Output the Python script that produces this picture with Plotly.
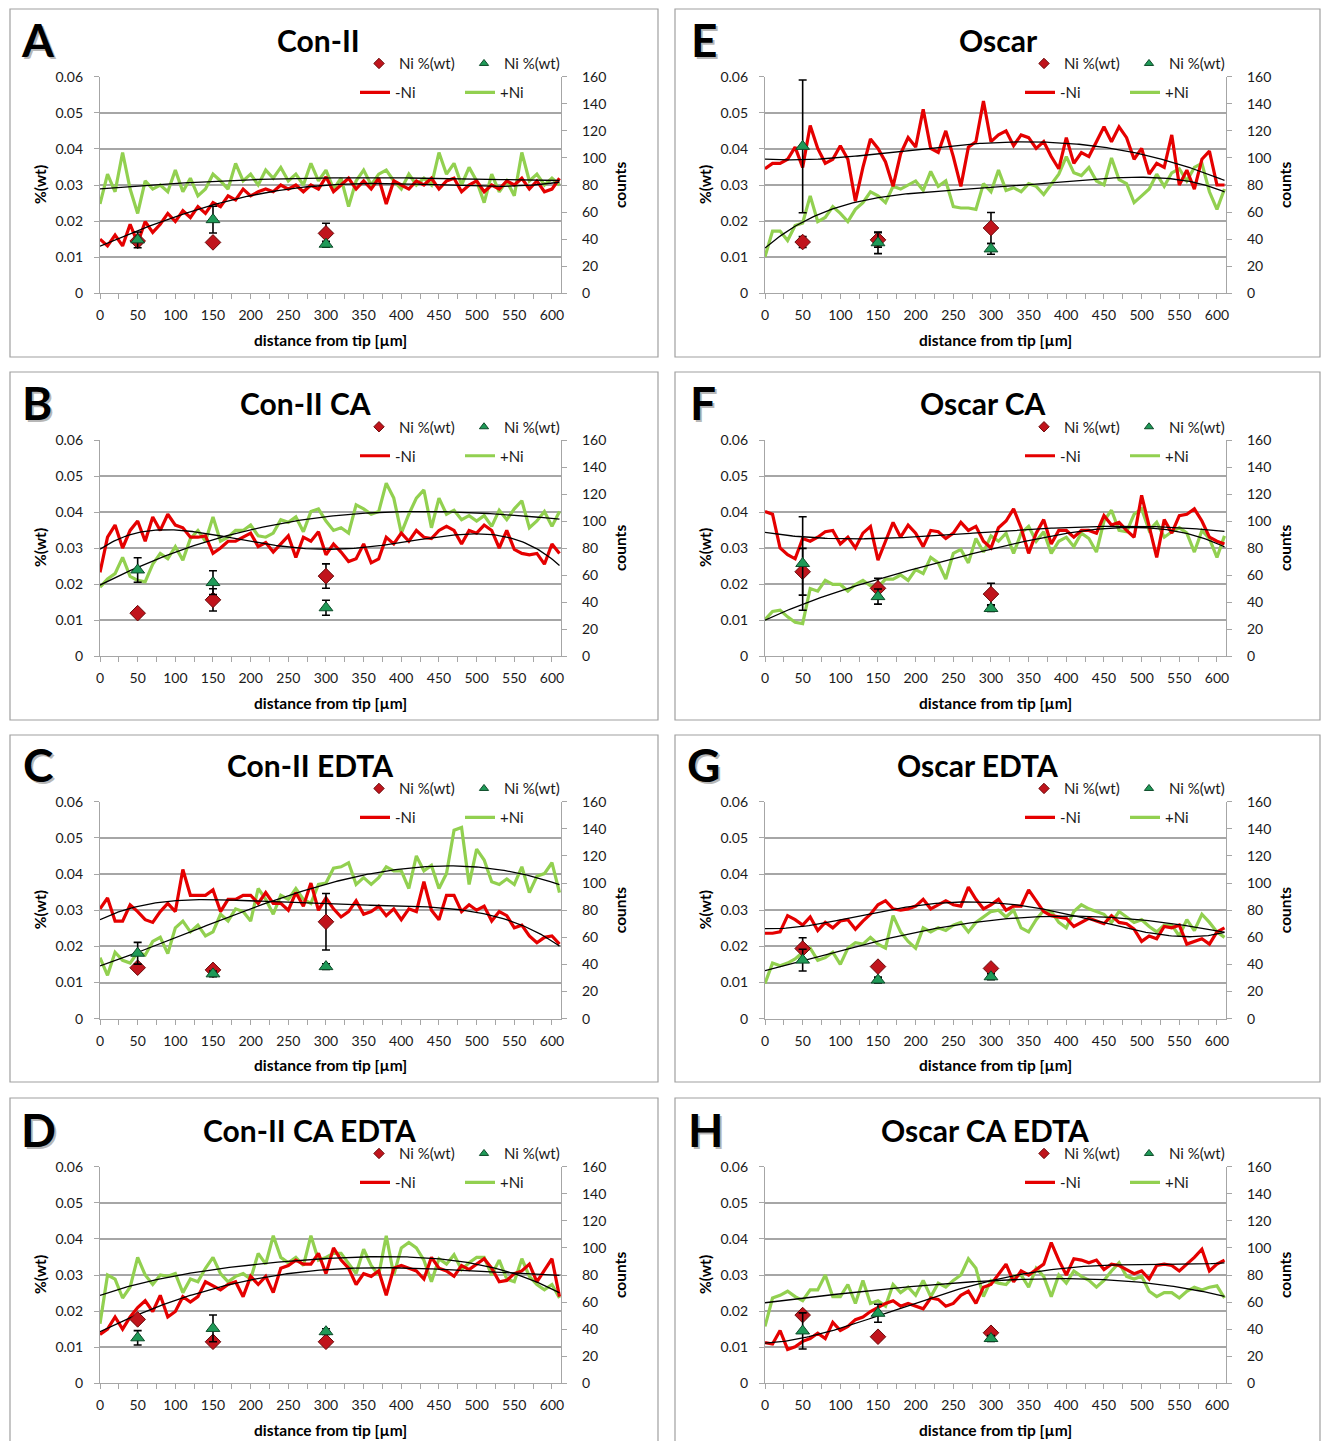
import numpy as np
import plotly.graph_objects as go

# ---------------- data ----------------
x_um = list(range(0, 611, 10))          # sampling positions of the count profiles [µm]
pt_x = [50, 150, 300]                    # positions of the Ni %(wt) measurements [µm]

# counts profiles (-Ni red, +Ni green)
A_minus = [40,35,43,35,51,37,53,45,51,59,53,61,56,64,59,67,64,72,69,77,72,75,77,75,80,77,80,75,80,77,86,75,80,85,77,83,77,85,66,83,80,77,83,80,85,77,83,85,75,80,83,75,80,77,83,80,85,77,83,75,77,85]
A_plus = [66,88,75,104,77,59,83,77,80,75,91,75,85,72,77,88,83,77,96,83,88,80,91,85,93,83,88,80,96,83,91,77,85,64,83,91,80,88,91,83,77,88,80,85,80,104,88,96,80,93,83,67,88,75,83,72,104,83,88,80,85,80]
B_minus = [62,88,97,80,93,100,85,103,93,105,97,95,88,88,89,76,80,85,85,88,91,81,84,77,83,89,73,88,85,92,75,83,77,70,72,83,69,72,88,83,91,85,93,88,87,93,96,93,83,93,91,97,93,80,93,79,76,75,76,68,83,76]
B_plus = [51,57,61,73,59,56,55,68,76,72,81,71,87,93,85,103,85,88,93,93,97,89,88,91,101,99,103,92,107,109,100,93,95,91,112,109,105,107,128,117,91,105,117,123,95,117,105,108,101,104,100,104,96,108,101,109,115,95,100,107,96,107]
C_minus = [81,89,72,72,84,79,73,71,79,85,79,110,91,91,91,95,79,88,88,91,91,85,93,85,85,80,93,83,100,80,89,81,75,79,87,77,79,83,76,81,73,81,79,101,80,73,91,91,79,84,80,83,72,79,76,67,69,61,56,60,61,55]
C_plus = [45,32,49,43,41,49,47,57,60,48,67,72,64,69,61,64,77,72,81,79,72,96,88,77,91,88,96,88,85,99,100,111,112,115,99,104,99,104,112,109,109,96,120,109,113,96,107,139,141,99,125,117,101,99,103,99,112,93,105,107,115,93]
D_minus = [36,40,49,40,49,56,61,53,65,49,53,64,60,64,75,72,69,73,75,64,79,73,79,67,85,87,91,88,88,96,81,100,91,85,73,81,79,83,65,85,87,85,83,77,93,85,83,79,87,84,88,92,85,75,76,81,83,88,75,84,92,64]
D_plus = [44,80,77,63,71,93,80,73,80,79,81,67,77,75,85,93,81,75,79,81,77,96,88,109,93,89,93,87,109,91,93,96,96,88,81,99,87,80,109,80,100,104,100,91,75,92,88,95,84,89,93,93,80,91,77,75,92,79,73,69,73,63]
E_minus = [92,96,96,99,108,93,124,107,96,99,109,99,68,93,114,107,97,79,103,115,108,136,107,104,120,101,79,108,112,142,112,117,120,109,117,115,107,112,101,92,115,96,104,101,112,123,112,123,115,99,107,88,96,93,117,80,91,77,99,105,80,80]
E_plus = [27,46,46,39,50,52,72,53,56,64,59,53,62,67,75,72,67,79,77,80,83,76,90,79,83,64,63,63,62,81,75,91,76,78,75,81,79,73,81,88,101,89,87,93,83,80,100,84,81,67,72,77,88,79,89,92,83,93,96,75,62,77]
F_minus = [107,105,80,75,72,87,85,88,92,93,83,88,80,91,96,71,85,99,88,97,91,81,93,92,87,91,99,93,96,85,80,95,100,109,95,76,91,101,83,93,93,88,93,93,91,104,97,99,93,88,119,96,73,101,91,104,105,109,100,88,85,83]
F_plus = [27,33,34,29,25,24,50,48,56,53,53,48,53,56,52,51,57,57,60,56,64,61,73,69,57,76,79,69,87,77,89,85,91,76,91,96,85,92,76,85,88,81,91,87,77,100,108,93,92,105,109,93,99,88,92,95,91,77,93,87,73,89]
G_minus = [63,63,64,76,73,69,75,65,71,67,72,73,66,72,77,84,87,81,80,81,83,88,81,84,87,84,83,97,88,81,84,88,80,83,83,95,87,79,76,75,74,68,71,74,72,70,76,71,70,66,57,61,59,68,67,69,55,57,59,55,64,67]
G_plus = [26,41,39,41,44,49,52,43,45,49,40,52,56,55,60,55,52,76,64,57,52,67,64,67,65,69,71,64,71,75,79,80,75,80,67,64,73,80,79,71,67,79,84,81,79,77,71,79,75,71,73,68,64,69,69,61,73,65,77,71,64,60]
H_minus = [30,29,39,25,27,31,33,37,33,45,39,42,47,49,53,56,59,61,57,59,57,55,63,62,57,59,65,68,59,71,73,81,88,75,83,80,84,88,104,91,80,92,91,89,91,84,88,87,84,81,83,77,87,88,87,83,88,93,99,83,88,91]
H_plus = [42,63,65,68,64,61,69,69,80,64,64,73,59,76,59,61,57,73,67,71,65,76,64,74,71,76,80,92,85,64,76,74,73,79,80,71,85,79,64,80,74,83,79,76,71,76,83,89,79,77,79,68,64,67,67,63,68,71,69,71,72,63]

# Ni %(wt) measurements with error bars (at pt_x)
A_wt_minus, A_wt_minus_err = [0.0145, 0.0141, 0.0166], [0.0008, 0.0008, 0.0028]
A_wt_plus, A_wt_plus_err = [0.0148, 0.0204, 0.0136], [0.0022, 0.0037, 0.0008]
B_wt_minus, B_wt_minus_err = [0.0119, 0.0156, 0.0222], [0.0005, 0.0031, 0.0034]
B_wt_plus, B_wt_plus_err = [0.0239, 0.0204, 0.0134], [0.0034, 0.0033, 0.0021]
C_wt_minus, C_wt_minus_err = [0.0141, 0.0135, 0.0268], [0.0008, 0.0008, 0.0078]
C_wt_plus, C_wt_plus_err = [0.0181, 0.0124, 0.0144], [0.0030, 0.0008, 0.0008]
D_wt_minus, D_wt_minus_err = [0.0177, 0.0115, 0.0115], [0.0008, 0.0008, 0.0008]
D_wt_plus, D_wt_plus_err = [0.0126, 0.0152, 0.0143], [0.0020, 0.0037, 0.0008]
E_wt_minus, E_wt_minus_err = [0.0142, 0.0148, 0.0181], [0.0015, 0.0020, 0.0043]
E_wt_plus, E_wt_plus_err = [0.0407, 0.0140, 0.0123], [0.0184, 0.0030, 0.0015]
F_wt_minus, F_wt_minus_err = [0.0234, 0.0188, 0.0172], [0.0065, 0.0028, 0.0030]
F_wt_plus, F_wt_plus_err = [0.0257, 0.0165, 0.0132], [0.0130, 0.0021, 0.0008]
G_wt_minus, G_wt_minus_err = [0.0194, 0.0144, 0.0139], [0.0030, 0.0008, 0.0008]
G_wt_plus, G_wt_plus_err = [0.0162, 0.0107, 0.0116], [0.0030, 0.0008, 0.0008]
H_wt_minus, H_wt_minus_err = [0.0189, 0.0129, 0.0140], [0.0008, 0.0008, 0.0008]
H_wt_plus, H_wt_plus_err = [0.0145, 0.0194, 0.0124], [0.0050, 0.0025, 0.0008]

panel_letters = ["A", "B", "C", "D", "E", "F", "G", "H"]
panel_titles = ["Con-II", "Con-II CA", "Con-II EDTA", "Con-II CA EDTA",
                "Oscar", "Oscar CA", "Oscar EDTA", "Oscar CA EDTA"]
wt_ticks = [0, 0.01, 0.02, 0.03, 0.04, 0.05, 0.06]
count_ticks = [0, 20, 40, 60, 80, 100, 120, 140, 160]
x_ticks = [0, 50, 100, 150, 200, 250, 300, 350, 400, 450, 500, 550, 600]

series = {
    "A": (A_minus, A_plus, A_wt_minus, A_wt_minus_err, A_wt_plus, A_wt_plus_err),
    "B": (B_minus, B_plus, B_wt_minus, B_wt_minus_err, B_wt_plus, B_wt_plus_err),
    "C": (C_minus, C_plus, C_wt_minus, C_wt_minus_err, C_wt_plus, C_wt_plus_err),
    "D": (D_minus, D_plus, D_wt_minus, D_wt_minus_err, D_wt_plus, D_wt_plus_err),
    "E": (E_minus, E_plus, E_wt_minus, E_wt_minus_err, E_wt_plus, E_wt_plus_err),
    "F": (F_minus, F_plus, F_wt_minus, F_wt_minus_err, F_wt_plus, F_wt_plus_err),
    "G": (G_minus, G_plus, G_wt_minus, G_wt_minus_err, G_wt_plus, G_wt_plus_err),
    "H": (H_minus, H_plus, H_wt_minus, H_wt_minus_err, H_wt_plus, H_wt_plus_err),
}

# ---------------- style / layout ----------------
PAGE_MARGIN = 0                      # body margin is removed by the post script
W, H = 1322 - 2 * PAGE_MARGIN, 1441 - 2 * PAGE_MARGIN
FONT = "Lato"
TXT = "#1a1a1a"
GRID = "#a6a6a6"
RED_LINE, GREEN_LINE = "#e50000", "#92d050"
RED_MK, RED_MK_EDGE = "#c0141c", "#6b0a0a"
GREEN_MK, GREEN_MK_EDGE = "#1f9a58", "#0d4a28"

# positions below are in screen pixels of the 1322x1441 page
col_px = [(100, 561), (765, 1226)]
row_px = [(76.7, 293.3), (440, 656), (801.7, 1018.7), (1166.7, 1383.3)]
box_cols = [(10, 658), (675, 1320)]
box_rows = [(9, 357), (372, 720), (735, 1082), (1098, 1460)]
title_x = [318, 305, 310, 309, 998, 983, 977, 985]
letter_x = [38, 37, 38, 38, 704, 703, 703, 705]


def px(x):
    return (x - PAGE_MARGIN) / W


def py(y):
    return 1 - (y - PAGE_MARGIN) / H


fig = go.Figure()
layout = dict(width=W, height=H,
              margin=dict(l=0, r=0, t=0, b=0, autoexpand=False),
              paper_bgcolor="white", plot_bgcolor="white",
              font=dict(family=FONT, size=14, color=TXT), showlegend=True)
annotations, shapes = [], []


def bold(s, color="black"):
    return dict(family=FONT, size=s, color=color, weight="bold")


def note(text, x, y, font, angle=0):
    return dict(text=text, x=px(x), y=py(y), xref="paper", yref="paper",
                xanchor="center", yanchor="middle", showarrow=False,
                textangle=angle, font=font)


for i, key in enumerate(panel_letters):
    col, row = i // 4, i % 4
    x0, x1 = col_px[col]
    y0, y1 = row_px[row]
    minus, plus, wm, wme, wp, wpe = series[key]
    assert len(minus) == len(x_um) and len(plus) == len(x_um)

    xn = i + 1
    yb, yo = 2 * i + 1, 2 * i + 2
    xid = "x" if xn == 1 else f"x{xn}"
    ybid = "y" if yb == 1 else f"y{yb}"
    yoid = f"y{yo}"
    lg1 = "legend" if i == 0 else f"legend{2 * i + 1}"
    lg2 = f"legend{2 * i + 2}"

    # count profiles on the (base) counts axis
    fig.add_trace(go.Scatter(x=x_um, y=plus, mode="lines", name="+Ni", showlegend=False,
                             line=dict(color=GREEN_LINE, width=3.2),
                             xaxis=xid, yaxis=ybid))
    fig.add_trace(go.Scatter(x=x_um, y=minus, mode="lines", name="-Ni", showlegend=False,
                             line=dict(color=RED_LINE, width=3.2),
                             xaxis=xid, yaxis=ybid))
    # polynomial trend lines (fitted to the profiles)
    xs = np.linspace(x_um[0], x_um[-1], 200)
    for ys_data in (minus, plus):
        poly = np.polynomial.Polynomial.fit(x_um, ys_data, 4)
        fig.add_trace(go.Scatter(x=xs, y=poly(xs), mode="lines", showlegend=False,
                                 line=dict(color="black", width=1.3),
                                 xaxis=xid, yaxis=ybid, hoverinfo="skip"))
    # Ni %(wt) points on the overlaying %(wt) axis
    fig.add_trace(go.Scatter(x=pt_x, y=wm, mode="markers", name="Ni %(wt)", showlegend=False,
                             marker=dict(symbol="diamond", size=12, color=RED_MK,
                                         line=dict(color=RED_MK_EDGE, width=1)),
                             error_y=dict(type="data", array=wme, color="black",
                                          thickness=1.6, width=4),
                             xaxis=xid, yaxis=yoid))
    fig.add_trace(go.Scatter(x=pt_x, y=wp, mode="markers", name="Ni %(wt)", showlegend=False,
                             marker=dict(symbol="triangle-up", size=12, color=GREEN_MK,
                                         line=dict(color=GREEN_MK_EDGE, width=1)),
                             error_y=dict(type="data", array=wpe, color="black",
                                          thickness=1.6, width=4),
                             xaxis=xid, yaxis=yoid))
    # legend entries (legend-only proxies, smaller symbols as in the original)
    fig.add_trace(go.Scatter(x=[None], y=[None], mode="markers", name="Ni %(wt)",
                             marker=dict(symbol="diamond", size=8, color=RED_MK,
                                         line=dict(color=RED_MK_EDGE, width=1)),
                             xaxis=xid, yaxis=yoid, legend=lg1, legendrank=1))
    fig.add_trace(go.Scatter(x=[None], y=[None], mode="markers", name="Ni %(wt)",
                             marker=dict(symbol="triangle-up", size=8, color=GREEN_MK,
                                         line=dict(color=GREEN_MK_EDGE, width=1)),
                             xaxis=xid, yaxis=yoid, legend=lg1, legendrank=2))
    fig.add_trace(go.Scatter(x=[None], y=[None], mode="lines", name="-Ni",
                             line=dict(color=RED_LINE, width=3.2),
                             xaxis=xid, yaxis=ybid, legend=lg2, legendrank=1))
    fig.add_trace(go.Scatter(x=[None], y=[None], mode="lines", name="+Ni",
                             line=dict(color=GREEN_LINE, width=3.2),
                             xaxis=xid, yaxis=ybid, legend=lg2, legendrank=2))

    tickfont = dict(family=FONT, size=14, color=TXT)
    layout["xaxis" if xn == 1 else f"xaxis{xn}"] = dict(
        domain=[px(x0), px(x1)], anchor=ybid, range=[0, 612],
        tickvals=x_ticks, ticks="outside", ticklen=5, tickcolor=GRID,
        minor=dict(dtick=25, tick0=0, ticks="outside", ticklen=5, tickcolor=GRID),
        showline=True, linecolor=GRID, linewidth=1.3, showgrid=False,
        zeroline=False, tickfont=tickfont, ticklabelstandoff=4, fixedrange=True)
    layout["yaxis" if yb == 1 else f"yaxis{yb}"] = dict(
        domain=[py(y1), py(y0)], anchor=xid, side="right", range=[0, 160],
        tickvals=count_ticks, ticks="outside", ticklen=5, tickcolor=GRID,
        showline=True, linecolor=GRID, linewidth=1.3, showgrid=False,
        zeroline=False, tickfont=tickfont, ticklabelstandoff=12, fixedrange=True)
    layout[f"yaxis{yo}"] = dict(
        overlaying=ybid, anchor=xid, side="left", range=[0, 0.06],
        tickvals=wt_ticks, ticktext=[f"{v:g}" for v in wt_ticks],
        ticks="outside", ticklen=5, tickcolor=GRID,
        showline=True, linecolor=GRID, linewidth=1.3,
        showgrid=True, gridcolor=GRID, gridwidth=1.5, zeroline=False,
        tickfont=tickfont, ticklabelstandoff=8, fixedrange=True)

    # legends
    legfont = dict(family=FONT, size=15, color=TXT)
    layout[lg1] = dict(orientation="h", x=px(x0 + 281 - 22), y=py(y0 - 13),
                       xanchor="left", yanchor="middle", bgcolor="rgba(0,0,0,0)",
                       font=legfont, entrywidth=60, entrywidthmode="pixels",
                       itemclick=False, itemdoubleclick=False)
    layout[lg2] = dict(orientation="h", x=px(x0 + 262 - 7), y=py(y0 + 16),
                       xanchor="left", yanchor="middle", bgcolor="rgba(0,0,0,0)",
                       font=legfont, entrywidth=60, entrywidthmode="pixels",
                       itemclick=False, itemdoubleclick=False)

    # texts
    annotations.append(note(key, letter_x[i] + 2, y0 - 37.5 + 2, bold(46, "rgba(0,0,0,0.28)")))
    annotations.append(note(key, letter_x[i], y0 - 37.5, bold(46)))
    annotations.append(note(panel_titles[i], title_x[i], y0 - 37, bold(30)))
    annotations.append(note("%(wt)", x0 - 60, (y0 + y1) / 2, bold(15.5), -90))
    annotations.append(note("counts", x1 + 59, (y0 + y1) / 2, bold(15.5), -90))
    annotations.append(note("distance from tip [µm]", (x0 + x1) / 2, y1 + 46.5, bold(15.5)))

    bx0, bx1 = box_cols[col]
    by0, by1 = box_rows[row]
    shapes.append(dict(type="rect", xref="paper", yref="paper", layer="below",
                       x0=px(bx0), x1=px(bx1), y0=py(by1), y1=py(by0),
                       line=dict(color="#a0a0a0", width=1.2)))

layout["annotations"] = annotations
layout["shapes"] = shapes
fig.update_layout(**layout)

fig.write_html("out.html",
               config={"displayModeBar": False, "displaylogo": False},
               post_script="document.body.style.margin='0';document.body.style.overflow='hidden';")
